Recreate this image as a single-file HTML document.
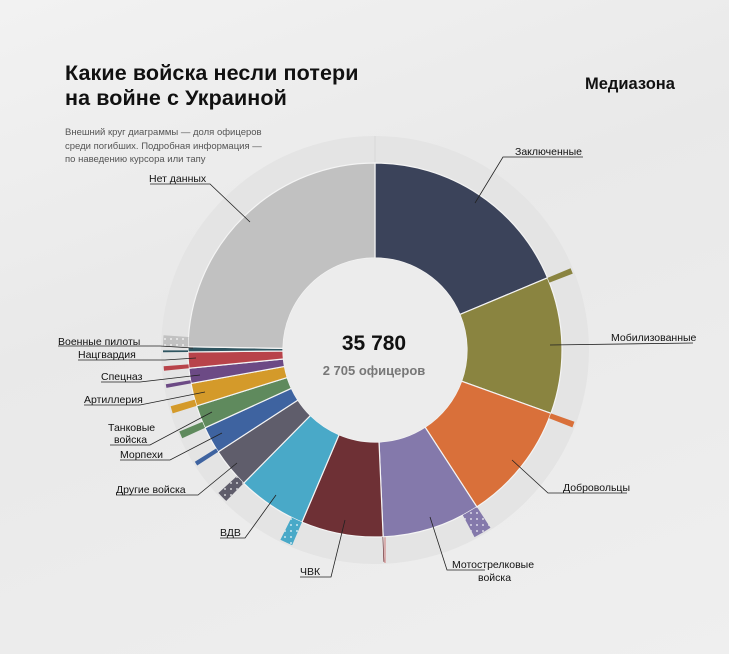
<!DOCTYPE html>
<html><head><meta charset="utf-8">
<style>
html,body{margin:0;padding:0;}
body{width:729px;height:654px;overflow:hidden;background:linear-gradient(160deg,#f2f2f2 0%,#e9e9e9 40%,#efefef 100%);font-family:"Liberation Sans",sans-serif;position:relative;}
.t{position:absolute;left:65px;top:61px;font-size:21.5px;font-weight:bold;line-height:25px;color:#111;letter-spacing:0.1px;}
.logo{position:absolute;left:585px;top:75px;font-size:16.5px;font-weight:bold;color:#111;}
.s{position:absolute;left:65px;top:126px;font-size:9.5px;line-height:13.5px;color:#555;}
svg{position:absolute;left:0;top:0;}
svg text{font-family:"Liberation Sans",sans-serif;font-size:10.5px;fill:#111;}
</style></head><body>
<div class="t">Какие войска несли потери<br>на войне с Украиной</div>
<div class="logo">Медиазона</div>
<div class="s">Внешний круг диаграммы — доля офицеров<br>среди погибших. Подробная информация —<br>по наведению курсора или тапу</div>
<svg id="c" width="729" height="654" viewBox="0 0 729 654">
<defs>
<pattern id="st" width="6" height="6" patternUnits="userSpaceOnUse"><circle cx="3" cy="3" r="1" fill="#fff" opacity="0.7"/></pattern>
</defs>
<circle cx="375" cy="350" r="214" fill="#e4e4e4"/>
<circle cx="375" cy="350" r="187" fill="#ececec"/>
<line x1="375" y1="136" x2="375" y2="163" stroke="#d8d8d8" stroke-width="1"/>
<line x1="385" y1="537" x2="385" y2="563" stroke="#c86060" stroke-width="0.8"/>
<g id="w"></g>
<circle cx="375" cy="350" r="92" fill="#ececec"/>
<text x="374" y="350" text-anchor="middle" style="font-size:21px;font-weight:bold;fill:#111">35 780</text>
<text x="374" y="375" text-anchor="middle" style="font-size:13px;font-weight:bold;fill:#777">2 705 офицеров</text>
<g stroke="#222" stroke-width="0.8" fill="none">
<polyline points="475,203 503,157 583,157"/>
<polyline points="550,345 693,343"/>
<polyline points="512,460 548,493 627,493"/>
<polyline points="430,517 447,570 485,570"/>
<polyline points="345,520 331,577 300,577"/>
<polyline points="276,495 245,538 220,538"/>
<polyline points="237,463 198,495 116,495"/>
<polyline points="222,433 170,460 120,460"/>
<polyline points="212,412 150,445 110,445"/>
<polyline points="205,392 140,405 84,405"/>
<polyline points="200,375 140,382 101,382"/>
<polyline points="196,358 165,360 78,360"/>
<polyline points="193,348 160,346 58,346"/>
<polyline points="250,222 210,184 150,184"/>
</g>
<text x="515" y="155">Заключенные</text>
<text x="611" y="341">Мобилизованные</text>
<text x="563" y="491">Добровольцы</text>
<text x="452" y="568">Мотострелковые</text>
<text x="478" y="581">войска</text>
<text x="300" y="575">ЧВК</text>
<text x="220" y="536">ВДВ</text>
<text x="116" y="493">Другие войска</text>
<text x="120" y="458">Морпехи</text>
<text x="108" y="431">Танковые</text>
<text x="114" y="443">войска</text>
<text x="84" y="403">Артиллерия</text>
<text x="101" y="380">Спецназ</text>
<text x="78" y="358">Нацгвардия</text>
<text x="58" y="345">Военные пилоты</text>
<text x="149" y="182">Нет данных</text>
</svg>
<script>
var cx=375,cy=350;
function pt(r,a){a=a*Math.PI/180;return [cx+r*Math.sin(a),cy-r*Math.cos(a)];}
function arc(r0,r1,a0,a1){var l=(a1-a0)>180?1:0;var p1=pt(r1,a0),p2=pt(r1,a1),p3=pt(r0,a1),p4=pt(r0,a0);
return "M"+p1+" A"+r1+","+r1+" 0 "+l+" 1 "+p2+" L"+p3+" A"+r0+","+r0+" 0 "+l+" 0 "+p4+"Z";}
var seg=[[0,67.3,"#3b435a",0],[67.3,109.8,"#8a8440",1.6],[109.8,147,"#d9703a",1.6],[147,177.5,"#8479ab",5],[177.5,203,"#6e3035",0.2],[203,224.6,"#49a9c8",3.5],[224.6,237,"#5f5d6b",3],[237,245.4,"#3e63a0",1.2],[245.4,252.6,"#5f8a5d",2],[252.6,259.7,"#d49a2a",2],[259.7,264.4,"#6c4a85",1],[264.4,269.4,"#b8434a",1.2],[269.4,271,"#2f5560",0.5],[271,360,"#c1c1c1",3]];
var g=document.getElementById("w"),h="";
seg.forEach(function(s){h+='<path d="'+arc(92,187,s[0],s[1])+'" fill="'+s[2]+'" stroke="#f4f4f4" stroke-width="1.2"/>';
if(s[3]>0){var d=arc(187,212,s[0],s[0]+s[3]);h+='<path d="'+d+'" fill="'+s[2]+'"/>';if(s[3]>2.5)h+='<path d="'+d+'" fill="url(#st)"/>';}});
g.innerHTML=h;
</script>
</body></html>
